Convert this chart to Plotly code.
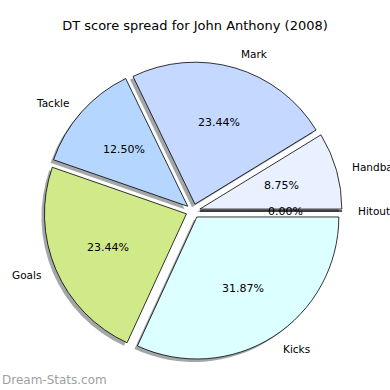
import math
import plotly.graph_objects as go

# ---- data ----
labels = ["Hitout", "Handball", "Mark", "Tackle", "Goals", "Kicks"]
values = [0.00, 8.75, 23.44, 12.50, 23.44, 31.87]
colors = ["#e8f0ff", "#e9f0ff", "#c5d8ff", "#b5d6ff", "#d0ea8a", "#dcffff"]
title = "DT score spread for John Anthony (2008)"
watermark = "Dream-Stats.com"

# ---- layout constants (pixels) ----
W = H = 390
cx, cy, R = 193.0, 211.0, 142.0
pull = 0.05
shadow_dx, shadow_dy = -3.0, 3.0
FONT = "DejaVu Sans"

half = R * (1 + pull)


def dom(dx=0.0, dy=0.0):
    return dict(
        x=[(cx + dx - half) / W, (cx + dx + half) / W],
        y=[1 - (cy + dy + half) / H, 1 - (cy + dy - half) / H],
    )


fig = go.Figure()
# shadow
fig.add_trace(go.Pie(
    values=values, labels=labels, sort=False, direction="counterclockwise",
    rotation=90, pull=[pull] * len(values), domain=dom(shadow_dx, shadow_dy),
    marker=dict(colors=["rgba(90,95,95,0.55)"] * len(values), line=dict(width=0)),
    textinfo="none", hoverinfo="skip", showlegend=False,
))
# main pie
fig.add_trace(go.Pie(
    values=values, labels=labels, sort=False, direction="counterclockwise",
    rotation=90, pull=[pull] * len(values), domain=dom(),
    marker=dict(colors=colors, line=dict(color="black", width=0.8)),
    textinfo="none", showlegend=False,
))

# text annotations derived from the values (matplotlib-like placement)
total = sum(values)
ann = []
start = 0.0
for lab, v in zip(labels, values):
    ang = 360.0 * v / total
    mid = math.radians(start + ang / 2)
    start += ang
    c, s = math.cos(mid), math.sin(mid)
    ox, oy = cx + pull * R * c, cy - pull * R * s
    # percentage
    px, py = ox + 0.6 * R * c, oy - 0.6 * R * s
    ann.append(dict(x=px / W, y=1 - py / H, xref="paper", yref="paper",
                    text=f"{v / total * 100:.2f}%", showarrow=False,
                    xanchor="center", yanchor="middle",
                    font=dict(family=FONT, size=11, color="black")))
    # label
    lx, ly = ox + 1.1 * R * c, oy - 1.1 * R * s
    ann.append(dict(x=lx / W, y=1 - ly / H, xref="paper", yref="paper",
                    text=lab, showarrow=False,
                    xanchor="left" if c > 0 else "right", yanchor="middle",
                    font=dict(family=FONT, size=10.5, color="black")))

ann.append(dict(x=0, y=1 - 380 / H, xref="paper", yref="paper", text=watermark,
                showarrow=False, xanchor="left", yanchor="middle",
                font=dict(family=FONT, size=12, color="#a0a0a0")))

fig.update_layout(
    width=W, height=H, margin=dict(l=0, r=0, t=0, b=0),
    paper_bgcolor="white", plot_bgcolor="white",
    title=dict(text=title, x=0.5, xanchor="center", y=1 - 25 / H, yanchor="middle",
               font=dict(family=FONT, size=13, color="black")),
    annotations=ann,
)

fig.write_html("out.html")
